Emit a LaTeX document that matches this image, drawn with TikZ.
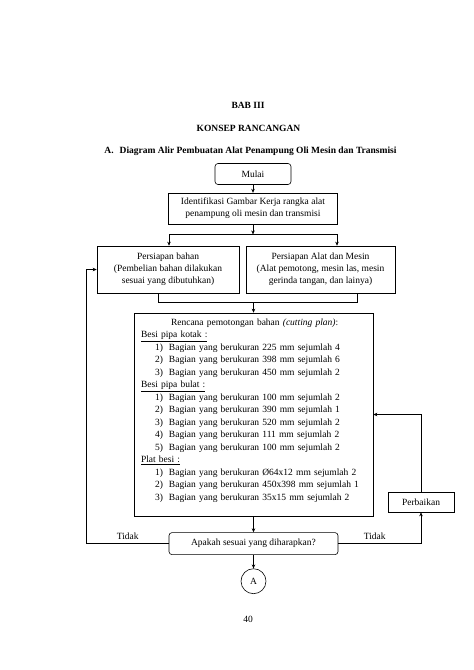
\documentclass[tikz,border=0pt]{standalone}
\usepackage{fontspec}
\setmainfont{Liberation Serif}
\usetikzlibrary{positioning, arrows.meta, calc}
\tikzset{
    boxed/.style={draw, rectangle, line width=0.6pt, align=center, inner sep=2pt},
    rboxed/.style={boxed, rounded corners=3pt},
    connector/.style={line width=0.6pt},
    flow/.style={connector, -{Stealth[length=4pt, width=3.5pt]}},
    heading/.style={font=\fontsize{9.5}{12}\selectfont\bfseries} }
\newcommand{\itm}[1]{\hspace*{14pt}\makebox[14pt][l]{#1}}

\begin{document}
\begin{tikzpicture}[x=1pt, y=1pt, font=\fontsize{9.5}{12}\selectfont]
			\useasboundingbox[fill=white] (0,0) rectangle (474,-670);
			\node[heading] (bab) at (248,-105) {BAB III};
			\node[heading] (konsep) at (248.5,-128) {KONSEP RANCANGAN};
			\node[heading] (judul) at (250.5,-151) {A.\hspace{6pt}Diagram Alir Pembuatan Alat Penampung Oli Mesin dan Transmisi};
			% ----
			\node[rboxed, minimum width=76pt, minimum height=21pt] (mulai) at (253,-174) {Mulai};
			\node[boxed, minimum width=169pt, minimum height=31pt, below = 8pt of mulai] (ident)
				{Identifikasi Gambar Kerja rangka alat\\penampung oli mesin dan transmisi};
			\node[boxed, minimum width=142pt, minimum height=47pt] (bahan) at (168,-269.5)
				{Persiapan bahan\\(Pembelian bahan dilakukan\\sesuai yang dibutuhkan)};
			\node[boxed, minimum width=149pt, minimum height=47pt] (alat) at (320.5,-269.5)
				{Persiapan Alat dan Mesin\\(Alat pemotong, mesin las, mesin\\gerinda tangan, dan lainya)};
			\node[boxed, minimum width=239pt, minimum height=203pt, text width=225pt, inner xsep=7pt,
				align=left, font=\fontsize{9.5}{12.5}\selectfont] (rencana) at (253.5,-414.5)
				{\hspace*{30pt}Rencana pemotongan bahan \textit{(cutting plan)}:\\
				\underline{Besi pipa kotak :}\\
				\itm{1)}Bagian yang berukuran 225 mm sejumlah 4\\
				\itm{2)}Bagian yang berukuran 398 mm sejumlah 6\\
				\itm{3)}Bagian yang berukuran 450 mm sejumlah 2\\
				\underline{Besi pipa bulat :}\\
				\itm{1)}Bagian yang berukuran 100 mm sejumlah 2\\
				\itm{2)}Bagian yang berukuran 390 mm sejumlah 1\\
				\itm{3)}Bagian yang berukuran 520 mm sejumlah 2\\
				\itm{4)}Bagian yang berukuran 111 mm sejumlah 2\\
				\itm{5)}Bagian yang berukuran 100 mm sejumlah 2\\
				\underline{Plat besi :}\\
				\itm{1)}Bagian yang berukuran Ø64x12 mm sejumlah 2\\
				\itm{2)}Bagian yang berukuran 450x398 mm sejumlah 1\\
				\itm{3)}Bagian yang berukuran 35x15 mm sejumlah 2\rule[-10pt]{0pt}{1pt}};
			\node[rboxed, minimum width=169pt, minimum height=22pt, below = 16pt of rencana] (sesuai)
				{Apakah sesuai yang diharapkan?};
			\node[draw, circle, line width=0.6pt, minimum size=25pt, inner sep=0pt, below = 13.5pt of sesuai] (A) {A};
			\node[boxed, minimum width=66pt, minimum height=20pt] (perbaikan) at (421,-502) {Perbaikan};
			\node (hal) at (248,-619) {40};
			% ----
			\coordinate (split) at ($(ident.south)+(0,-10)$);
			\coordinate (join) at ($(rencana.north)+(0,10)$);
			\draw[flow] (mulai) -- (ident);
			\draw[flow] (ident.south) -- (split);
			\draw[flow] (split) -| ([xshift=1pt]bahan.north);
			\draw[flow] (split) -| ([xshift=16.5pt]alat.north);
			\draw[connector] ([xshift=-10pt]bahan.south) |- (join) -| ([xshift=36.5pt]alat.south);
			\draw[flow] (join) -- (rencana);
			\draw[flow] (rencana) -- (sesuai);
			\draw[flow] (sesuai) -- (A);
			\draw[flow] (sesuai.west) -- ++(-82,0) node[midway, above] {Tidak} |- (bahan.west);
			\draw[flow] (sesuai.east) -| (perbaikan.south) node[pos=0.22, above] {Tidak};
			\draw[flow] (perbaikan.north) |- (rencana.east);
\end{tikzpicture}
\end{document}
